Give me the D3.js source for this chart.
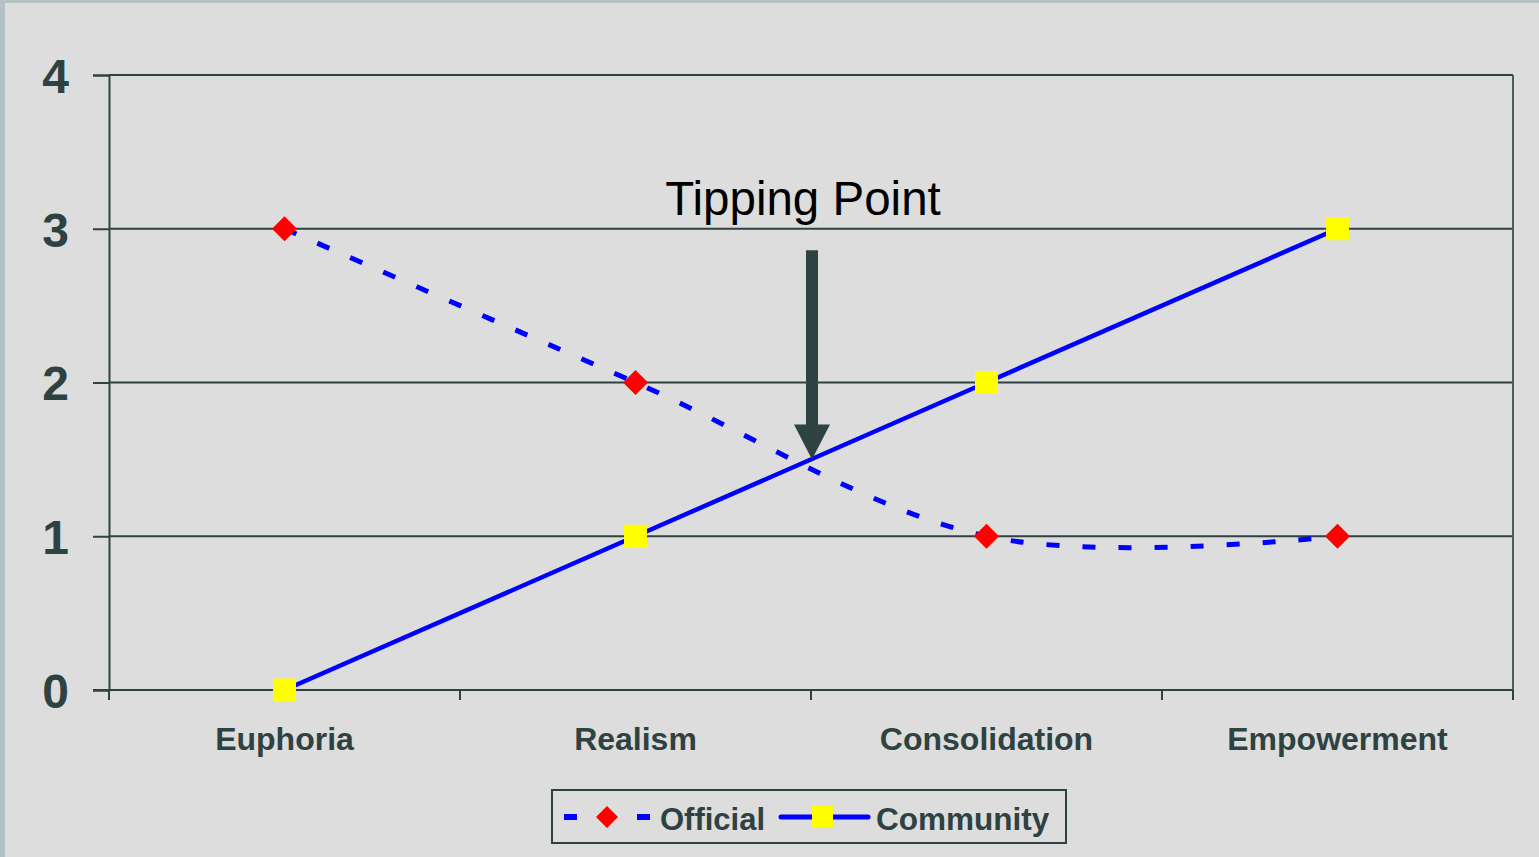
<!DOCTYPE html>
<html><head><meta charset="utf-8">
<script src="https://cdn.jsdelivr.net/npm/d3@7"></script>
<style>
html,body{margin:0;padding:0;background:#dddddd;}
svg{display:block;}
</style></head>
<body>
<svg id="chart" width="1539" height="857"></svg>
<script>
const categories = ["Euphoria", "Realism", "Consolidation", "Empowerment"];
const official = [3, 2, 1, 1];
const community = [0, 1, 2, 3];
const yTicks = [0, 1, 2, 3, 4];
const seriesNames = ["Official", "Community"];
const annotationText = "Tipping Point";
const tippingValue = 1.5;
const arrowTopValue = 2.86;

const dark = "#2e4241";
const font = "'Liberation Sans', Arial, Helvetica, sans-serif";
const svg = d3.select("#chart");

// background and frame strips
svg.append("rect").attr("width",1539).attr("height",857).attr("fill","#dddddd");
svg.append("rect").attr("x",0).attr("y",0).attr("width",5).attr("height",857).attr("fill","#b3c3c3");
svg.append("rect").attr("x",0).attr("y",0).attr("width",1539).attr("height",3).attr("fill","#b3c3c3");

const L = 109, R = 1513, T = 75, B = 690;
const x = d3.scaleBand().domain(categories).range([L, R]).paddingInner(0).paddingOuter(0);
const y = d3.scaleLinear().domain([0, 4]).range([B, T]);
const cx = c => x(c) + x.bandwidth()/2;

// gridlines
svg.append("g").selectAll("line").data(yTicks.filter(v => v > 0)).join("line")
  .attr("x1", L).attr("x2", R).attr("y1", d => y(d)).attr("y2", d => y(d))
  .attr("stroke", dark).attr("stroke-width", 2);
// right border of plot
svg.append("line").attr("x1", R).attr("x2", R).attr("y1", T).attr("y2", B)
  .attr("stroke", "#4a5c5c").attr("stroke-width", 2);

// y axis
const yAxis = d3.axisLeft(y).tickValues(yTicks).tickSize(16).tickPadding(24).tickFormat(d3.format("d"));
const gy = svg.append("g").attr("transform", `translate(${L},0)`).call(yAxis);
gy.select(".domain").attr("stroke", dark).attr("stroke-width", 2);
gy.selectAll(".tick line").attr("stroke", dark).attr("stroke-width", 2);
gy.selectAll(".tick text").attr("fill", dark).attr("font-family", font)
  .attr("font-size", 48).attr("font-weight", "bold").attr("dy", "0.36em");

// x axis line + ticks at band boundaries
svg.append("line").attr("x1", L-16).attr("x2", R).attr("y1", B).attr("y2", B)
  .attr("stroke", dark).attr("stroke-width", 2);
const boundaries = categories.map(c => x(c)).concat([x.range()[1]]);
svg.append("g").selectAll("line").data(boundaries).join("line")
  .attr("x1", d => d).attr("x2", d => d).attr("y1", B).attr("y2", B + 10)
  .attr("stroke", dark).attr("stroke-width", 2);
svg.append("g").selectAll("text").data(categories).join("text")
  .attr("x", d => cx(d)).attr("y", 750).attr("text-anchor", "middle")
  .attr("font-family", font).attr("font-size", 32).attr("font-weight", "bold")
  .attr("fill", dark).text(d => d);

// lines
const offPts = categories.map((c, i) => [cx(c), y(official[i])]);
const comPts = categories.map((c, i) => [cx(c), y(community[i])]);

svg.append("path").attr("d", d3.line().curve(d3.curveCardinal.tension(0))(offPts))
  .attr("fill", "none").attr("stroke", "#0000ff").attr("stroke-width", 5)
  .attr("stroke-dasharray", "13,23");
svg.append("path").attr("d", d3.line()(comPts))
  .attr("fill", "none").attr("stroke", "#0000ff").attr("stroke-width", 4.5);

// markers
svg.append("g").selectAll("path").data(offPts).join("path")
  .attr("d", d => `M${d[0]},${d[1]-12.5}L${d[0]+12.5},${d[1]}L${d[0]},${d[1]+12.5}L${d[0]-12.5},${d[1]}Z`)
  .attr("fill", "#ff0000");
svg.append("g").selectAll("rect").data(comPts).join("rect")
  .attr("x", d => d[0]-11.5).attr("y", d => d[1]-11.5).attr("width", 23).attr("height", 23)
  .attr("fill", "#ffff00");

// annotation
const ax = x(categories[2]);
svg.append("text").attr("x", 803).attr("y", 215).attr("text-anchor", "middle")
  .attr("font-family", font).attr("font-size", 47.5).attr("fill", "#000").text(annotationText);
const tipY = y(tippingValue), topY = y(arrowTopValue);
svg.append("rect").attr("x", ax - 5).attr("y", topY).attr("width", 12).attr("height", tipY - 35 - topY + 1)
  .attr("fill", dark);
svg.append("path").attr("d", `M${ax-17},${tipY-35}L${ax+19},${tipY-35}L${ax+1},${tipY}Z`).attr("fill", dark);

// legend
const lg = svg.append("g");
lg.append("rect").attr("x", 552).attr("y", 790).attr("width", 514).attr("height", 53)
  .attr("fill", "none").attr("stroke", dark).attr("stroke-width", 2);
lg.append("line").attr("x1", 564).attr("x2", 650).attr("y1", 817).attr("y2", 817)
  .attr("stroke", "#0000ff").attr("stroke-width", 6).attr("stroke-dasharray", "13,60");
lg.append("path").attr("d", "M607,806L618,817L607,828L596,817Z").attr("fill", "#ff0000");
lg.append("text").attr("x", 660).attr("y", 830).attr("font-family", font).attr("font-size", 31)
  .attr("font-weight", "bold").attr("fill", dark).text(seriesNames[0]);
lg.append("line").attr("x1", 781).attr("x2", 868).attr("y1", 817).attr("y2", 817)
  .attr("stroke", "#0000ff").attr("stroke-width", 5).attr("stroke-linecap", "round");
lg.append("rect").attr("x", 812).attr("y", 806).attr("width", 21).attr("height", 21).attr("fill", "#ffff00");
lg.append("text").attr("x", 876).attr("y", 830).attr("font-family", font).attr("font-size", 31.5)
  .attr("font-weight", "bold").attr("fill", dark).text(seriesNames[1]);
</script>
</body></html>
